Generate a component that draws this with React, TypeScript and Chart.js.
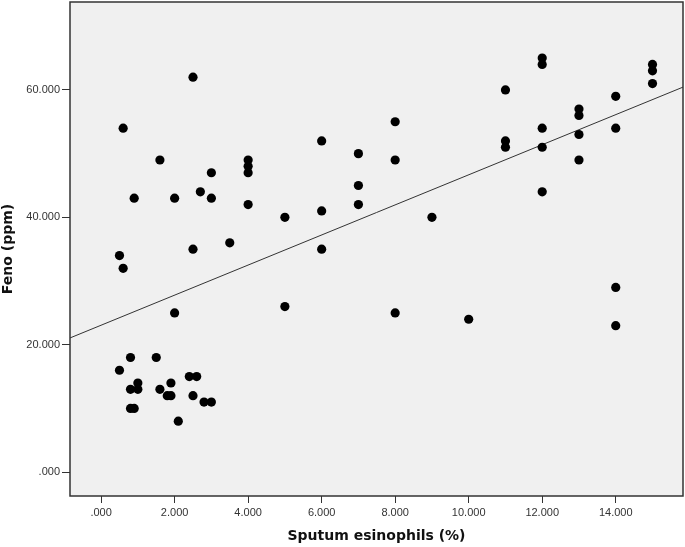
import React, { useEffect, useRef } from "react";
import { Chart, registerables } from "chart.js";

Chart.register(...registerables);

// Sputum esinophils (%)
const sputumX = [
  0.6, 0.5, 0.6, 0.9, 1.6, 2.5, 2, 2.7, 3, 3, 2.5, 3.5, 4, 4, 4, 4, 2,
  5, 5, 6, 6, 6, 7, 7, 7, 8, 8, 8, 9, 10,
  11, 11, 11, 12, 12, 12, 12, 12, 13, 13, 13, 13, 14, 14, 14, 14, 15, 15, 15,
  0.5, 0.8, 1.5, 0.8, 1.0, 1.0, 0.8, 0.9, 1.6, 1.8, 1.9, 1.9, 2.4, 2.6, 2.5, 2.8, 3.0, 2.1,
];
// Feno (ppm)
const fenoY = [
  54, 34, 32, 43, 49, 62, 43, 44, 47, 43, 35, 36, 49, 48, 47, 42, 25,
  40, 26, 52, 41, 35, 50, 45, 42, 55, 49, 25, 40, 24,
  60, 52, 51, 65, 64, 54, 51, 44, 57, 56, 53, 49, 59, 54, 29, 23, 64, 63, 61,
  16, 18, 18, 13, 14, 13, 10, 10, 13, 12, 12, 14, 15, 15, 12, 11, 11, 8,
];

// Fit line endpoints (at the plot edges)
const fitX = [-0.846, 15.83];
const fitY = [21.07, 60.44];

const xTicks = [0, 2, 4, 6, 8, 10, 12, 14];
const yTicks = [0, 20, 40, 60];
const xRange = [-0.846, 15.83];
const yRange = [-3.74, 73.8];

const xTitle = "Sputum esinophils (%)";
const yTitle = "Feno (ppm)";

const fmt = (v: number) => (v === 0 ? ".000" : v.toFixed(3));

export default function App() {
  const ref = useRef<HTMLCanvasElement | null>(null);

  useEffect(() => {
    if (!ref.current) return;
    const framePlugin = {
      id: "frame",
      beforeDatasetsDraw(chart: any) {
        const { ctx, chartArea: a } = chart;
        ctx.save();
        ctx.fillStyle = "#f0f0f0";
        ctx.fillRect(a.left, a.top, a.right - a.left, a.bottom - a.top);
        ctx.restore();
      },
      afterDraw(chart: any) {
        const { ctx, chartArea: a } = chart;
        ctx.save();
        ctx.strokeStyle = "#333333";
        ctx.lineWidth = 1.5;
        ctx.strokeRect(a.left, a.top, a.right - a.left, a.bottom - a.top);
        ctx.restore();
      },
    };

    const chart = new Chart(ref.current, {
      type: "scatter",
      data: {
        datasets: [
          {
            type: "line",
            data: fitX.map((x, i) => ({ x, y: fitY[i] })),
            borderColor: "#333333",
            borderWidth: 1,
            pointRadius: 0,
            fill: false,
            order: 2,
          } as any,
          {
            type: "scatter",
            data: sputumX.map((x, i) => ({ x, y: fenoY[i] })),
            backgroundColor: "#000000",
            borderColor: "#000000",
            borderWidth: 0,
            pointRadius: 4.6,
            order: 1,
          },
        ],
      },
      options: {
        animation: false,
        responsive: true,
        maintainAspectRatio: false,
        layout: { autoPadding: false, padding: { top: 2, right: 2, left: 0, bottom: 0 } },
        plugins: { legend: { display: false }, tooltip: { enabled: false } },
        scales: {
          x: {
            type: "linear",
            min: xRange[0],
            max: xRange[1],
            afterBuildTicks: (s: any) => {
              s.ticks = xTicks.map((v) => ({ value: v }));
            },
            afterFit: (s: any) => {
              s.height = 51;
              s.paddingLeft = 0;
              s.paddingRight = 0;
            },
            grid: {
              drawOnChartArea: false,
              drawTicks: true,
              tickLength: 7,
              color: "#333333",
            },
            border: { display: false },
            ticks: {
              callback: (v: any) => fmt(Number(v)),
              color: "#333333",
              font: { family: "Liberation Sans", size: 11 },
              padding: 3,
              maxRotation: 0,
              autoSkip: false,
            },
            title: {
              display: true,
              text: xTitle,
              color: "#111111",
              font: { family: "DejaVu Sans", size: 14, weight: "bold" },
              padding: { top: 0, bottom: 2 },
            },
          },
          y: {
            type: "linear",
            min: yRange[0],
            max: yRange[1],
            afterBuildTicks: (s: any) => {
              s.ticks = yTicks.map((v) => ({ value: v }));
            },
            afterFit: (s: any) => {
              s.width = 70;
              s.paddingTop = 0;
              s.paddingBottom = 0;
            },
            grid: {
              drawOnChartArea: false,
              drawTicks: true,
              tickLength: 8,
              color: "#333333",
            },
            border: { display: false },
            ticks: {
              callback: (v: any) => fmt(Number(v)),
              color: "#333333",
              font: { family: "Liberation Sans", size: 11 },
              padding: 2,
              autoSkip: false,
            },
            title: {
              display: true,
              text: yTitle,
              color: "#111111",
              font: { family: "DejaVu Sans", size: 14, weight: "bold" },
              padding: { top: 0, bottom: 0 },
            },
          },
        },
      },
      plugins: [framePlugin],
    });
    return () => chart.destroy();
  }, []);

  return (
    <div style={{ position: "fixed", left: 0, top: 0, width: 685, height: 547, background: "#ffffff" }}>
      <canvas ref={ref} />
    </div>
  );
}
